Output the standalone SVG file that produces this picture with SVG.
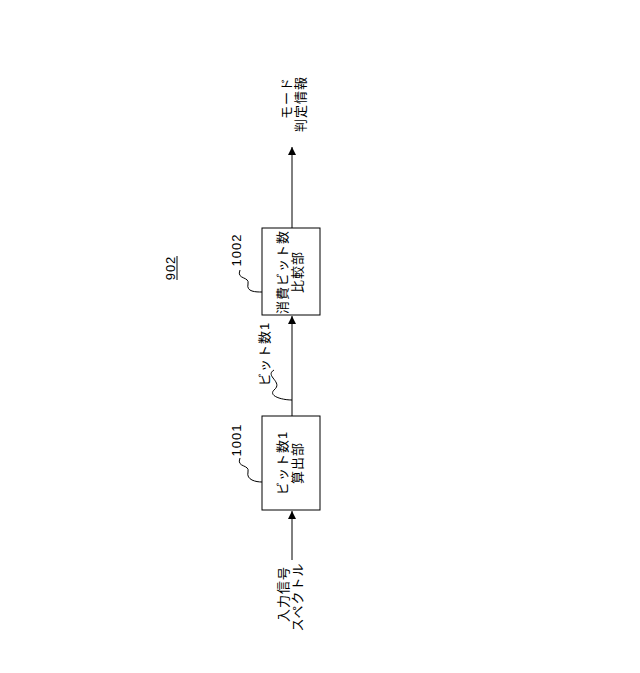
<svg xmlns="http://www.w3.org/2000/svg" width="640" height="673" viewBox="0 0 640 673">
<style>
text{font-family:"Liberation Sans","Noto Sans CJK JP",sans-serif;font-size:13px;letter-spacing:1px;fill:#000;text-anchor:middle}
.b{fill:#fff;stroke:#000;stroke-width:1}
.l{fill:none;stroke:#000;stroke-width:1}
</style>
<defs><marker id="a" markerWidth="8" markerHeight="8" refX="8" refY="4" orient="auto" markerUnits="userSpaceOnUse"><path d="M0,0L8,4L0,8z"/></marker></defs>
<rect width="640" height="673" fill="#fff"/>
<g id="connectors">
<line class="l" x1="292" y1="560" x2="292" y2="511" marker-end="url(#a)"/>
<line class="l" x1="292" y1="416" x2="292" y2="316" marker-end="url(#a)"/>
<line class="l" x1="292" y1="228" x2="292" y2="147" marker-end="url(#a)"/>
<path class="l" d="M240,270 C236,280 250,276 248,284 C246,292 256,292 262,292"/>
<path class="l" d="M240,458 C236,468 250,464 248,472 C246,480 256,482 262,482"/>
<path class="l" d="M274,370 C264,376 284,382 274,390 C268,396 282,400 292,400"/>
</g>
<g id="n902"><text transform="translate(175,268) rotate(-90)">902</text><line class="l" x1="177" y1="256" x2="177" y2="280"/></g>
<g id="n1002">
<rect class="b" x="262" y="228" width="58" height="87"/>
<text transform="translate(287,272) rotate(-90)">消費ビット数</text>
<text transform="translate(302,272) rotate(-90)">比較部</text>
<text transform="translate(241,250) rotate(-90)">1002</text>
</g>
<g id="n1001">
<rect class="b" x="262" y="416" width="58" height="94"/>
<text transform="translate(287,463) rotate(-90)">ビット数1</text>
<text transform="translate(302,463) rotate(-90)">算出部</text>
<text transform="translate(241,440) rotate(-90)">1001</text>
</g>
<g id="lbl"><text transform="translate(269,354) rotate(-90)">ビット数1</text></g>
<g id="out">
<text transform="translate(291,98) rotate(-90)">モード</text>
<text transform="translate(305,104) rotate(-90)">判定情報</text>
</g>
<g id="in">
<text transform="translate(288,594) rotate(-90)">入力信号</text>
<text transform="translate(302,597) rotate(-90)">スペクトル</text>
</g>
</svg>
